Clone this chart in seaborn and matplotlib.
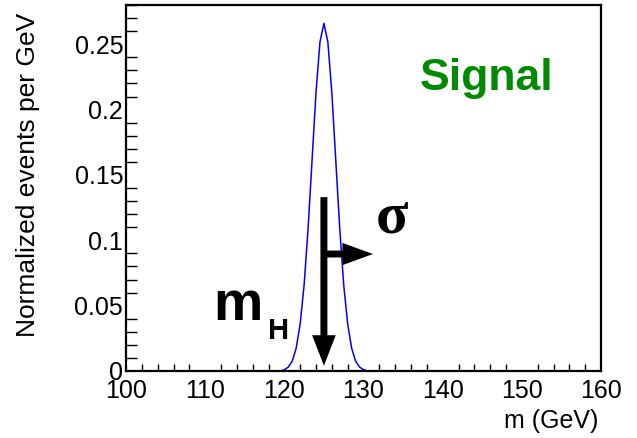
import matplotlib
matplotlib.use("Agg")
import matplotlib.pyplot as plt
import seaborn as sns
import pandas as pd
from matplotlib.ticker import MultipleLocator

sns.set_style("white")
plt.rcParams['font.family'] = ['Liberation Sans', 'DejaVu Sans']
plt.rcParams['text.color'] = 'black'
plt.rcParams['axes.labelcolor'] = 'black'
plt.rcParams['xtick.color'] = 'black'
plt.rcParams['ytick.color'] = 'black'

# Signal curve (m in GeV, normalized events per GeV)
mass = [100, 119.5, 120, 120.5, 121, 121.5, 122, 122.5, 123, 123.5, 124, 124.5,
        125, 125.5, 126, 126.5, 127, 127.5, 128, 128.5, 129, 129.5, 130, 130.5, 160]
events = [0.0, 0.0, 0.001, 0.003, 0.0076, 0.0175, 0.036, 0.066, 0.109, 0.161, 0.213, 0.2516,
          0.266, 0.2516, 0.213, 0.161, 0.109, 0.066, 0.036, 0.0175, 0.0076, 0.003, 0.001, 0.0, 0.0]

x_ticks = [100, 110, 120, 130, 140, 150, 160]
y_ticks = [0, 0.05, 0.1, 0.15, 0.2, 0.25]
y_tick_labels = ["0", "0.05", "0.1", "0.15", "0.2", "0.25"]

m_higgs = 125
arrow_top = 0.133
sigma_arrow_y = 0.0895
sigma_arrow_end = 131.2

df = pd.DataFrame({"m": mass, "events": events})

fig = plt.figure(figsize=(6.37, 4.38), dpi=100)
ax = fig.add_axes([126 / 637, 1 - 371 / 438, (601 - 126) / 637, (371 - 5) / 438])

sns.lineplot(data=df, x="m", y="events", ax=ax, color="#0000ff", linewidth=1.1)

ax.set_xlim(100, 160)
ax.set_ylim(0, 0.28)
ax.set_xticks(x_ticks)
ax.set_xticklabels([str(t) for t in x_ticks])
ax.set_yticks(y_ticks)
ax.set_yticklabels(y_tick_labels)
ax.xaxis.set_minor_locator(MultipleLocator(2))
ax.yaxis.set_minor_locator(MultipleLocator(0.01))

ax.tick_params(axis="both", which="both", direction="in", labelsize=18,
               colors="black", labelcolor="black")
ax.tick_params(axis="y", which="major", length=16, width=1, pad=2)
ax.tick_params(axis="y", which="minor", length=8, width=1, left=True)
ax.tick_params(axis="x", which="major", length=9, width=1, pad=6)
ax.tick_params(axis="x", which="minor", length=5, width=1, bottom=True)

for s in ax.spines.values():
    s.set_color("black")
    s.set_linewidth(1.6)

ax.set_xlabel("m (GeV)", fontsize=18, loc="right", color="black")
ax.xaxis.set_label_coords(0.9937, -0.105)
ax.set_ylabel("Normalized events per GeV", fontsize=19, loc="top", color="black")
ax.yaxis.set_label_coords(-0.18, 0.978)

# arrows (sharp filled heads)
ax.annotate("", xy=(m_higgs, 0.004), xytext=(m_higgs, arrow_top),
            arrowprops=dict(width=5, headwidth=17, headlength=22,
                            facecolor="black", edgecolor="none", shrink=0))
ax.annotate("", xy=(sigma_arrow_end, sigma_arrow_y), xytext=(m_higgs, sigma_arrow_y),
            arrowprops=dict(width=5, headwidth=16, headlength=22,
                            facecolor="black", edgecolor="none", shrink=0))

ax.text(131.6, 0.117, "σ", fontsize=43, fontweight="bold",
        family=["Liberation Serif", "DejaVu Serif"], color="black", ha="left", va="center")
ax.text(111.0, 0.039, "m", fontsize=40, fontweight="bold", color="black", ha="left", va="baseline")
ax.text(117.9, 0.0245, "H", fontsize=21, fontweight="bold", color="black", ha="left", va="baseline")

ax.text(137.1, 0.224, "Signal", fontsize=32, fontweight="bold", color="#008a00", ha="left", va="center")

fig.savefig("out.png", dpi=100)
